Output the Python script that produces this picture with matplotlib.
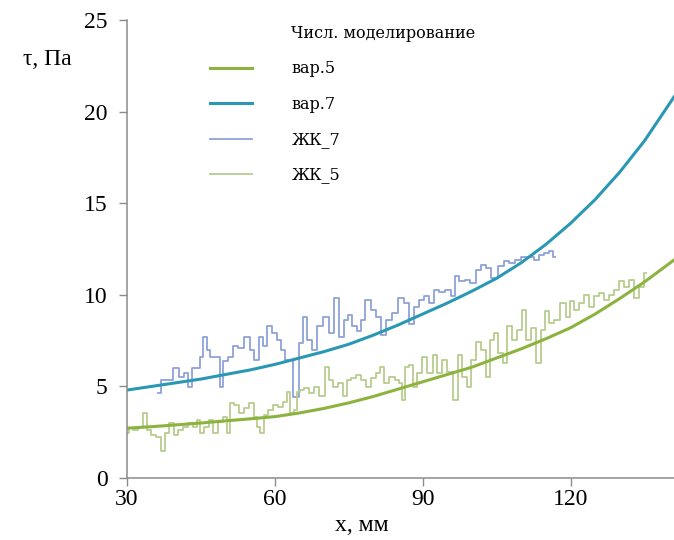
import matplotlib
matplotlib.use("Agg")
import matplotlib.pyplot as plt
from matplotlib.lines import Line2D

# numerical model curves
x_model = [30, 35, 40, 45, 50, 55, 60, 65, 70, 75, 80, 85, 90, 95, 100,
           105, 110, 115, 120, 125, 130, 135, 141]
var5 = [2.72, 2.8, 2.9, 3.0, 3.12, 3.23, 3.35, 3.55, 3.8, 4.1, 4.45, 4.85,
        5.25, 5.65, 6.05, 6.55, 7.05, 7.6, 8.2, 8.95, 9.8, 10.7, 11.9]
var7 = [4.8, 5.0, 5.2, 5.4, 5.65, 5.9, 6.2, 6.55, 6.9, 7.3, 7.8, 8.35,
        8.95, 9.55, 10.2, 10.9, 11.75, 12.75, 13.9, 15.2, 16.7, 18.4, 20.8]

# measured (ЖК_7)
x_zk7 = [36.3, 37.4, 38.7, 40.1, 41.1, 42.1, 42.8, 43.5, 44.5, 45.2, 45.8,
         46.5, 47.2, 48.5, 49.2, 49.9, 50.9, 52.3, 52.9, 54.6, 55.3, 56.3,
         57.3, 58.0, 59.0, 60.0, 61.0, 61.7, 62.4, 63.1, 64.4, 65.4, 66.1,
         67.1, 68.1, 69.1, 70.5, 71.5, 72.5, 73.5, 74.6, 75.2, 76.2, 77.3,
         77.6, 78.9, 80.0, 81.0, 82.0, 83.0, 84.4, 85.7, 86.7, 87.7, 88.8,
         89.8, 90.8, 91.8, 92.8, 93.8, 95.2, 96.2, 96.9, 97.9, 99.2, 100.2,
         101.3, 102.3, 103.3, 104.6, 106.0, 107.0, 108.0, 109.4, 110.7,
         112.1, 113.1, 114.1, 115.1, 116.1, 116.8]
y_zk7 = [4.63, 5.36, 5.36, 5.99, 5.54, 5.72, 4.99, 6.0, 6.0, 6.63, 7.72,
         7.0, 6.63, 6.63, 4.99, 6.36, 6.63, 7.18, 7.09, 7.72, 7.0, 6.45,
         7.72, 7.18, 8.27, 7.9, 7.54, 7.0, 6.45, 6.45, 4.44, 7.36, 8.81,
         7.54, 7.0, 8.27, 8.81, 7.9, 9.82, 7.72, 8.63, 8.9, 8.27, 8.0,
         8.63, 9.73, 9.18, 8.81, 7.8, 8.63, 9.0, 9.82, 9.55, 8.4, 9.36,
         9.73, 9.91, 9.55, 10.27, 10.18, 10.27, 9.91, 11.0, 10.73, 10.82, 10.64,
         11.37, 11.64, 11.46, 10.9, 11.55, 11.82, 11.73, 11.91, 12.09,
         12.09, 11.91, 12.19, 12.28, 12.37, 12.09]

# measured (ЖК_5)
x_zk5 = [30.0, 30.7, 31.7, 32.7, 33.7, 34.4, 35.4, 36.4, 37.4, 38.1, 39.1,
         40.1, 40.8, 41.8, 42.8, 43.9, 44.5, 45.2, 46.2, 47.2, 47.9, 48.9,
         49.9, 50.6, 51.3, 52.3, 53.3, 54.3, 55.4, 56.0, 56.7, 57.4, 58.1,
         59.1, 60.1, 61.1, 62.1, 62.8, 63.5, 64.1, 64.8, 65.5, 66.5, 67.5,
         68.5, 69.6, 70.6, 71.2, 72.3, 73.3, 74.3, 75.0, 76.0, 77.0, 78.0,
         79.0, 80.0, 81.0, 81.7, 82.7, 83.8, 84.8,
         85.4, 86.1, 86.7, 87.7, 88.4, 89.4, 90.4, 91.5, 92.5, 93.5, 94.5,
         95.5, 96.9, 97.5, 98.6, 99.2, 100.3, 101.3, 102.3, 103.3, 104.0,
         105.0, 105.7, 106.7, 107.7, 108.7, 109.7, 110.7, 111.4, 112.4,
         113.4, 114.5, 115.1, 116.1, 117.2, 118.5, 119.5, 120.2, 121.2,
         122.2, 123.2, 124.3, 125.3, 126.3, 127.3, 128.3, 129.3, 130.3,
         131.4, 132.4, 133.4, 134.4, 135.4]
y_zk5 = [2.44, 2.71, 2.62, 2.80, 3.53, 2.62, 2.35, 2.26, 1.5, 2.44, 2.99,
         2.35, 2.62, 2.80, 2.99, 2.80, 3.17, 2.44, 2.80, 3.17, 2.44, 3.08,
         3.35, 2.44, 4.08, 3.99, 3.53, 3.81, 4.08, 3.35, 2.80, 2.44, 3.44,
         3.72, 3.99, 3.90, 4.17, 4.72, 3.53, 3.72, 4.72, 4.81, 4.90, 4.63,
         4.99, 4.45, 6.08, 5.36, 4.99, 5.17, 4.45, 5.36, 5.45, 5.63, 5.36,
         4.99, 5.45, 5.72, 6.08, 5.17, 5.54, 5.36,
         5.17, 4.26, 6.08, 6.17, 4.99, 5.72, 6.63, 5.72, 6.72, 5.72, 6.45,
         5.81, 4.26, 6.72, 5.54, 4.99, 6.45, 7.45, 6.99, 5.54, 7.54,
         7.91, 6.81, 6.27, 8.27, 7.54, 8.09, 9.18, 7.54, 8.18,
         6.27, 8.09, 9.09, 8.45, 8.63, 9.55, 8.81, 9.64, 9.18,
         9.55, 10.0, 9.36, 9.91, 10.09, 9.73, 10.0, 10.27, 10.73,
         10.45, 10.82, 9.82, 10.45, 11.2]

c_var5 = "#8db33f"
c_var7 = "#2b98b3"
c_zk7 = "#8fa2d9"
c_zk5 = "#b6cd8f"
grey = "#8c8c8c"

fig = plt.figure(figsize=(6.74, 5.4), dpi=100)
ax = fig.add_axes([127 / 674, 1 - 478 / 540, 547 / 674, 458 / 540])

l7, = ax.plot(x_zk7, y_zk7, color=c_zk7, lw=1.3, drawstyle="steps-mid")
l5, = ax.plot(x_zk5, y_zk5, color=c_zk5, lw=1.3, drawstyle="steps-mid")
m5, = ax.plot(x_model, var5, color=c_var5, lw=2.2)
m7, = ax.plot(x_model, var7, color=c_var7, lw=2.2)

ax.set_xlim(30, 141)
ax.set_ylim(0, 25)
ax.set_xticks([30, 60, 90, 120])
ax.set_yticks([0, 5, 10, 15, 20, 25])

for s in ["top", "right"]:
    ax.spines[s].set_visible(False)
for s in ["left", "bottom"]:
    ax.spines[s].set_color(grey)
    ax.spines[s].set_linewidth(1.1)

ax.tick_params(axis="y", direction="out", length=6, width=1, color=grey,
               pad=8, labelsize=17)
ax.tick_params(axis="x", direction="out", length=6, width=1, color=grey,
               pad=2, labelsize=17)
for lab in ax.get_xticklabels() + ax.get_yticklabels():
    lab.set_fontfamily("Liberation Serif")

ax.set_xlabel("x, мм", fontsize=17, family="Liberation Serif")
ax.xaxis.set_label_coords(0.43, -0.08)
ax.set_ylabel("τ, Па", fontsize=17, family="Liberation Serif", rotation=0,
              ha="center", va="center")
ax.yaxis.set_label_coords(-0.146, 0.913)

header = Line2D([], [], color="none")
ax.legend([header, m5, m7, l7, l5],
          ["Числ. моделирование", "вар.5", "вар.7", "ЖК_7", "ЖК_5"],
          loc="upper left", bbox_to_anchor=(210 / 674, 1 - 25 / 540),
          bbox_transform=fig.transFigure, frameon=False,
          prop={"family": "DejaVu Serif", "size": 11.5},
          handlelength=2.6, handletextpad=2.5, labelspacing=1.15,
          borderpad=0, borderaxespad=0)

plt.savefig("out.png", dpi=100)
